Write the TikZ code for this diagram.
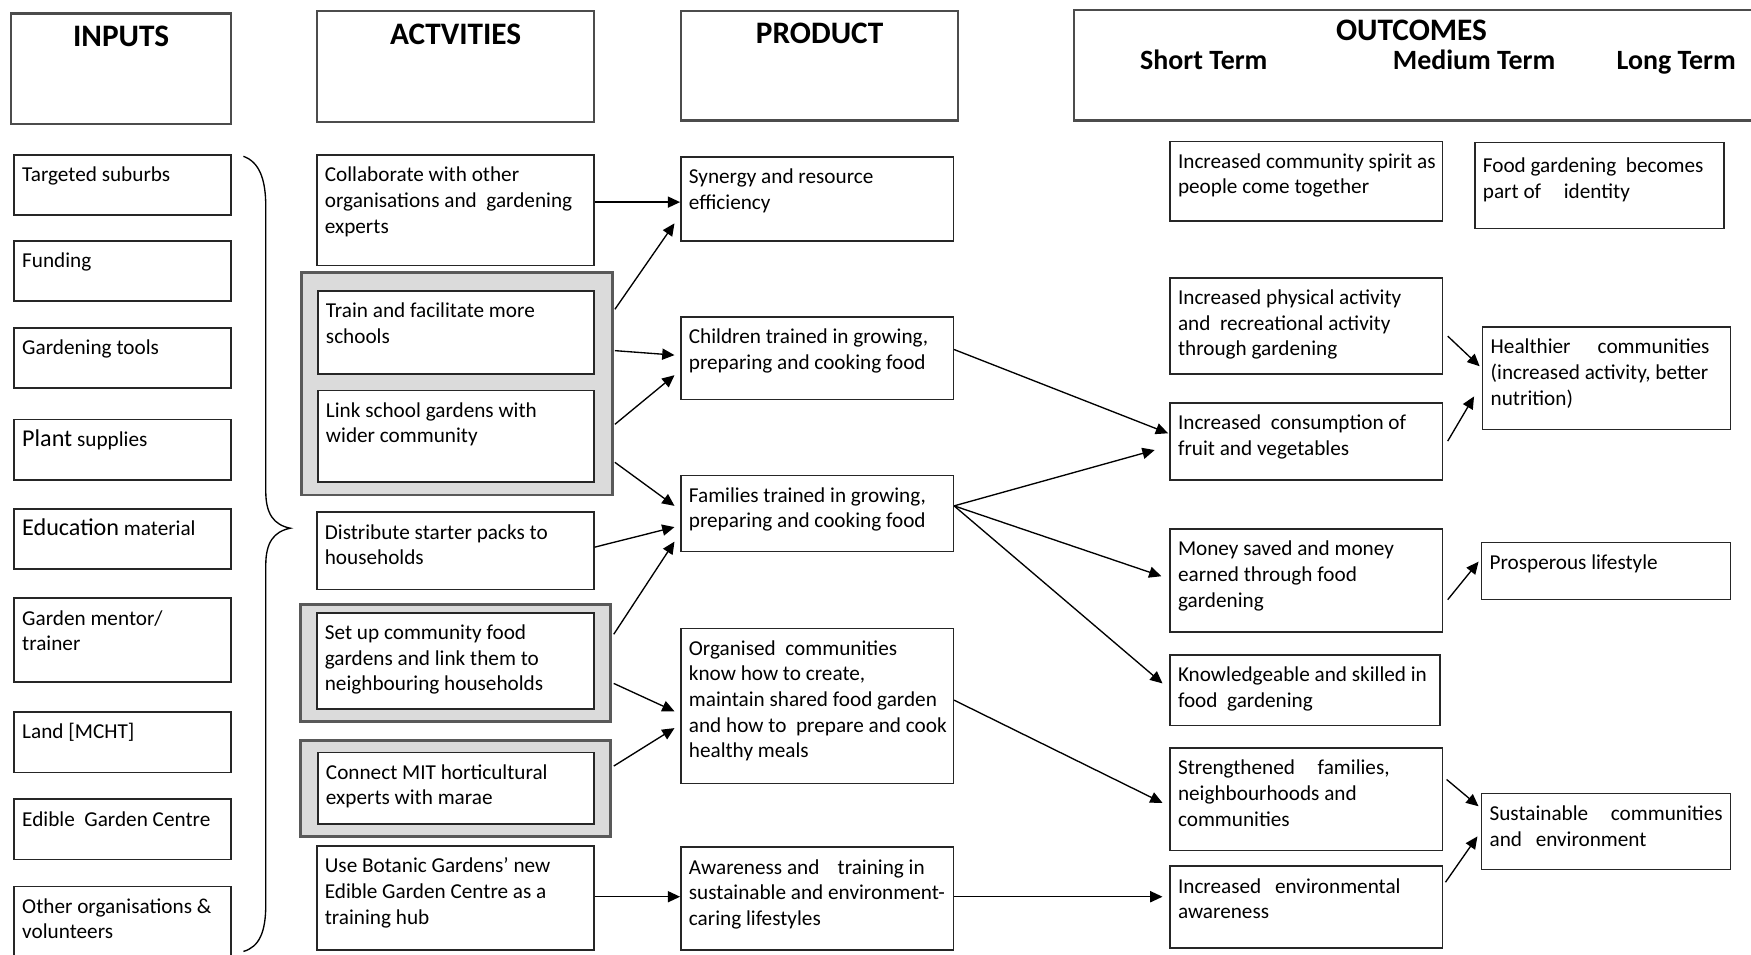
\documentclass[tikz,border=0pt]{standalone}
\usepackage{fontspec}
\setmainfont{Carlito}
\usetikzlibrary{arrows.meta,calc}
\newcommand{\bt}[3]{\parbox[c][\dimexpr #2pt/2\relax][t]{\dimexpr #1pt/2\relax}{\leftskip=3.6pt\rightskip=0pt plus 1fil\rule{0pt}{12pt}#3}}
\newcommand{\hdrtext}[4]{\parbox[c][\dimexpr #2pt/2\relax][t]{\dimexpr #1pt/2\relax}{\centering\rule{0pt}{#3pt}#4}}
\newcommand{\bigw}[1]{{\fontsize{10.8}{11.5}\selectfont #1}}
\tikzset{
 box/.style={draw=black!85, line width=0.7pt, fill=white, anchor=north west, inner sep=0pt, font=\fontsize{9.5}{11.5}\selectfont},
 hdr/.style={draw=black!70, line width=1pt, anchor=north west, inner sep=0pt, font=\fontsize{14}{16}\selectfont\bfseries},
 grp/.style={draw=black!65, fill=black!14, line width=1.3pt, anchor=north west, inner sep=0pt},
 term/.style={anchor=base, inner sep=0pt, font=\fontsize{12.5}{14}\selectfont\bfseries},
 arr/.style={-{Triangle[length=5.5pt,width=5pt]}, line width=0.6pt},
 brace/.style={line width=0.6pt},
}
\begin{document}
\begin{tikzpicture}[x=0.5pt,y=-0.5pt]
\useasboundingbox (0,0) rectangle (1568,855);
% headers
\node[hdr] (h1) at (9,11) {\hdrtext{197}{99}{15}{INPUTS}};
\node[hdr] (h2) at (283,9) {\hdrtext{248}{99}{15}{ACTVITIES}};
\node[hdr] (h3) at (609,9) {\hdrtext{248}{98}{14.5}{PRODUCT}};
\node[hdr] (h4) at (961,8) {\hdrtext{630}{99}{14}{}};
\node[term, font=\fontsize{14}{16}\selectfont\bfseries] (ot) at (1264,36) {OUTCOMES};
\node[term] (st) at (1078,62) {Short Term};
\node[term] (mt) at (1320,62) {Medium Term};
\node[term] (lt) at (1501,62) {Long Term};
% inputs
\node[box] (i1) at (12,138) {\bt{194}{54}{Targeted suburbs}};
\node[box] (i2) at (12,215) {\bt{194}{54}{Funding}};
\node[box] (i3) at (12,293) {\bt{194}{54}{Gardening tools}};
\node[box] (i4) at (12,375) {\bt{194}{54}{\bigw{Plant} supplies}};
\node[box] (i5) at (12,455) {\bt{194}{54}{\bigw{Education} material}};
\node[box] (i6) at (12,535) {\bt{194}{75}{Garden mentor/\\trainer}};
\node[box] (i7) at (12,637) {\bt{194}{54}{Land [MCHT]}};
\node[box] (i8) at (12,715) {\bt{194}{54}{Edible\ \ Garden Centre}};
\node[box] (i9) at (12,793) {\bt{194}{75}{Other organisations \&\\volunteers}};
\draw[brace] (218,140) .. controls (232,145) and (238,160) .. (238,185) -- (238,440)
  .. controls (238,460) and (245,470) .. (260,473) .. controls (245,476) and (238,486) .. (238,506)
  -- (238,810) .. controls (238,835) and (232,848) .. (218,852);
% activities
\node[grp, minimum width=139pt, minimum height=99.5pt] (g1) at (269,243) {};
\node[grp, minimum width=138.5pt, minimum height=52.5pt] (g2) at (268,540) {};
\node[grp, minimum width=138.5pt, minimum height=43pt] (g3) at (268,662) {};
\node[box] (a1) at (283,138) {\bt{248}{99}{Collaborate with other\\organisations and\ \ gardening\\experts}};
\node[box] (a2) at (284,260) {\bt{247}{74}{Train and facilitate more\\schools}};
\node[box] (a3) at (284,349) {\bt{247}{82}{Link school gardens with\\wider community}};
\node[box] (a4) at (283,458) {\bt{248}{69}{Distribute starter packs to\\households}};
\node[box] (a5) at (283,548) {\bt{248}{86}{Set up community food\\gardens and link them to\\neighbouring households}};
\node[box] (a6) at (284,673) {\bt{247}{64}{Connect MIT horticultural\\experts with marae}};
\node[box] (a7) at (283,757) {\bt{248}{93}{Use Botanic Gardens’ new\\Edible Garden Centre as a\\training hub}};
% products
\node[box] (p1) at (609,140) {\bt{244}{75}{Synergy and resource\\efficiency}};
\node[box] (p2) at (609,283) {\bt{244}{74}{Children trained in growing,\\preparing and cooking food}};
\node[box] (p3) at (609,425) {\bt{244}{68}{Families trained in growing,\\preparing and cooking food}};
\node[box] (p4) at (609,562) {\bt{244}{139}{Organised\ \ communities\\know how to create,\\maintain shared food garden\\and how to\ \ prepare and cook\\healthy meals}};
\node[box] (p5) at (609,758) {\bt{244}{92}{Awareness and\hspace{6pt} training in\\sustainable and environment-\\caring lifestyles}};
% short term
\node[box] (s1) at (1047,126) {\bt{244}{71}{Increased community spirit as\\people come together}};
\node[box] (s2) at (1047,248) {\bt{244}{86}{Increased physical activity\\and\ \ recreational activity\\through gardening}};
\node[box] (s3) at (1047,360) {\bt{244}{69}{Increased\ \ consumption of\\fruit and vegetables}};
\node[box] (s4) at (1047,473) {\bt{244}{92}{Money saved and money\\earned through food\\gardening}};
\node[box] (s5) at (1047,586) {\bt{242}{63}{Knowledgeable and skilled in\\food\ \ gardening}};
\node[box] (s6) at (1047,669) {\bt{244}{92}{Strengthened\hspace{8pt} families,\\neighbourhoods and\\communities}};
\node[box] (s7) at (1047,775) {\bt{244}{73}{Increased\hspace{4pt} environmental\\awareness}};
% long term
\node[box] (l1) at (1320,127) {\bt{223}{77}{\rule{0pt}{13.5pt}Food gardening\ \ becomes\\part of\hspace{8pt} identity}};
\node[box] (l2) at (1327,292) {\bt{222}{92}{Healthier\hspace{10pt} communities\\(increased activity, better\\nutrition)}};
\node[box] (l3) at (1326,485) {\bt{223}{51}{Prosperous lifestyle}};
\node[box] (l4) at (1326,710) {\bt{223}{68}{Sustainable\hspace{8pt} communities\\and\hspace{4pt} environment}};
% arrows
\draw[arr] ($(a1.north east)+(0,43)$) -- ($(p1.north west)+(0,41)$);
\draw[arr] ($(g1.north east)+(1,34)$) -- ($(p1.north west)+(-5,60)$);
\draw[arr] ($(g1.north east)+(1,71)$) -- ($(p2.north west)+(-5,35)$);
\draw[arr] ($(g1.north east)+(1,137)$) -- ($(p2.north west)+(-5,53)$);
\draw[arr] ($(g1.north east)+(1,171)$) -- ($(p3.north west)+(-5,28)$);
\draw[arr] ($(a4.north east)+(0,32)$) -- ($(p3.north west)+(-5,47)$);
\draw[arr] ($(g2.north east)+(2,28)$) -- ($(p3.north west)+(-5,60)$);
\draw[arr] ($(g2.north east)+(2,72)$) -- ($(p4.north west)+(-5,75)$);
\draw[arr] ($(g3.north east)+(2,24)$) -- ($(p4.north west)+(-5,90)$);
\draw[arr] ($(a7.north east)+(0,46)$) -- ($(p5.north west)+(0,45)$);
\draw[arr] ($(p2.north east)+(0,30)$) -- ($(s3.north west)+(-1,28)$);
\draw[arr] ($(p3.north east)+(0,28)$) -- ($(s3.north west)+(-13,43)$);
\draw[arr] ($(p3.north east)+(0,28)$) -- ($(s4.north west)+(-7,43)$);
\draw[arr] ($(p3.north east)+(0,28)$) -- ($(s5.north west)+(-6,26)$);
\draw[arr] ($(p4.north east)+(0,65)$) -- ($(s6.north west)+(-6,50)$);
\draw[arr] ($(p5.north east)+(0,45)$) -- ($(s7.north west)+(-6,28)$);
\draw[arr] ($(s2.north east)+(4,53)$) -- ($(l2.north west)+(-2,36)$);
\draw[arr] ($(s3.north east)+(4,35)$) -- ($(l2.north west)+(-7,63)$);
\draw[arr] ($(s4.north east)+(4,64)$) -- ($(l3.north west)+(-2,18)$);
\draw[arr] ($(s6.north east)+(3,29)$) -- ($(l4.north west)+(-2,12)$);
\draw[arr] ($(s7.north east)+(2,15)$) -- ($(l4.north west)+(-3,39)$);
\end{tikzpicture}
\end{document}
